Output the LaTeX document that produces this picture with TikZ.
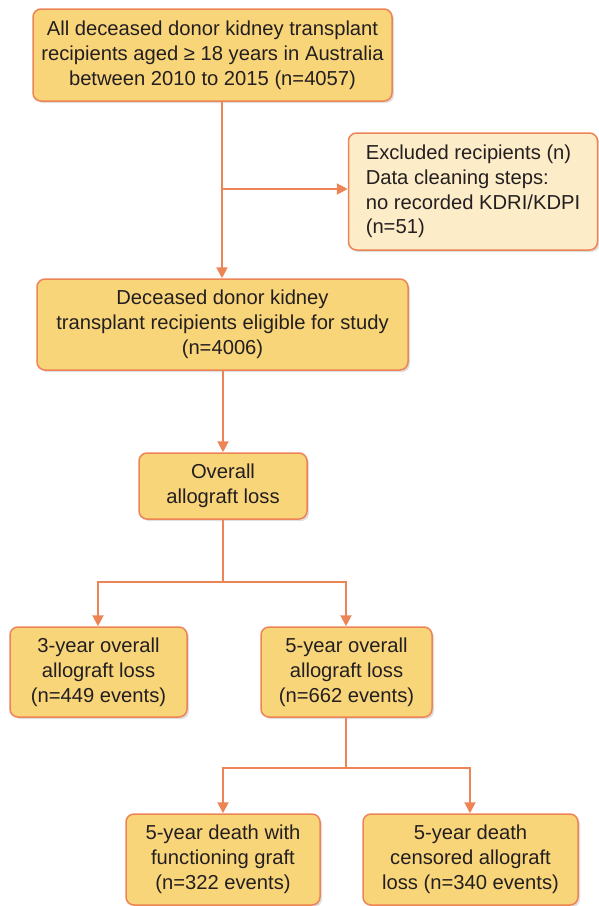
\documentclass[tikz,border=0pt]{standalone}
\usepackage{fontspec}
\setmainfont{Liberation Sans}
\usetikzlibrary{arrows.meta,shadows}
\definecolor{boxfill}{RGB}{249,213,122}
\definecolor{palefill}{RGB}{253,236,200}
\definecolor{edge}{RGB}{237,132,86}
\definecolor{ink}{RGB}{35,31,32}
\tikzset{
  box/.style={draw=edge, line width=1.5pt, fill=boxfill, rounded corners=8pt,
    align=center, text=ink, font=\fontsize{20.2}{24.8}\selectfont, inner sep=0pt,
    drop shadow={opacity=0.25, shadow xshift=2pt, shadow yshift=-2pt}},
  link/.style={draw=edge, line width=2pt},
  arr/.style={link, -{Triangle[length=11pt,width=11pt]}},
}
\begin{document}
\begin{tikzpicture}[x=1pt, y=-1pt]
  \useasboundingbox (0,0) rectangle (598,906);
  \node[box, minimum width=359pt, minimum height=92pt] (A) at (212.5,55)
    {All deceased donor kidney transplant\\recipients aged ≥ 18 years in Australia\\between 2010 to 2015 (n=4057)};
  \node[box, fill=palefill, align=left, minimum width=249pt, minimum height=117pt] (B) at (473,191.5)
    {Excluded recipients (n)\\Data cleaning steps:\\no recorded KDRI/KDPI\\(n=51)};
  \node[box, minimum width=371pt, minimum height=91pt] (C) at (222.5,324.5)
    {Deceased donor kidney\\transplant recipients eligible for study\\(n=4006)};
  \node[box, minimum width=168pt, minimum height=66pt] (D) at (223,486)
    {Overall\\allograft loss};
  \node[box, minimum width=177pt, minimum height=90pt] (E) at (98.5,672)
    {3-year overall\\allograft loss\\(n=449 events)};
  \node[box, minimum width=171pt, minimum height=90pt] (F) at (346.5,672)
    {5-year overall\\allograft loss\\(n=662 events)};
  \node[box, minimum width=194pt, minimum height=91pt] (G) at (223,859.5)
    {5-year death with\\functioning graft\\(n=322 events)};
  \node[box, minimum width=215pt, minimum height=91pt] (H) at (470.5,859.5)
    {5-year death\\censored allograft\\loss (n=340 events)};
  % branch points
  \coordinate (j1) at (222,189);
  \coordinate (j2) at (223,582);
  \coordinate (j3) at (346,768);
  \coordinate (e) at (98,0);
  \coordinate (g) at (223,0);
  \coordinate (h) at (470,0);
  \draw[arr] (A.south -| j1) -- (C.north -| j1);
  \draw[arr] (j1) -- (j1 -| B.west);
  \draw[arr] (C.south -| j2) -- (D.north -| j2);
  \draw[link] (D.south -| j2) -- (j2);
  \draw[arr] (j2) -| (E.north -| e);
  \draw[arr] (j2) -| (F.north -| j3);
  \draw[link] (F.south -| j3) -- (j3);
  \draw[arr] (j3) -| (G.north -| g);
  \draw[arr] (j3) -| (H.north -| h);
\end{tikzpicture}
\end{document}
